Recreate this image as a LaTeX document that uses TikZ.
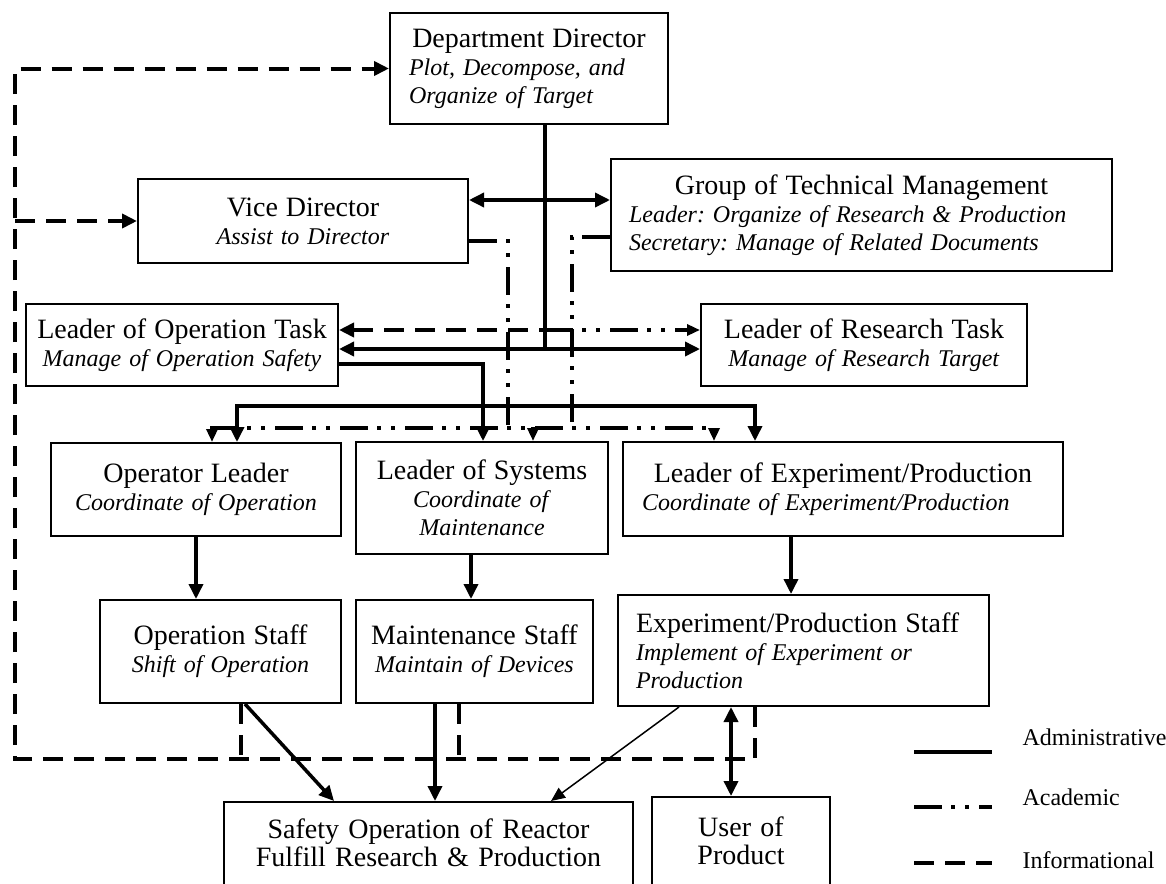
\documentclass[tikz,border=0pt]{standalone}
\usepackage{fontspec}
\setmainfont{Liberation Serif}
\usetikzlibrary{arrows.meta}
\frenchspacing

\newcommand{\boxtitle}[1]{{\fontsize{28}{28}\selectfont #1}}
\newcommand{\boxhead}[1]{\makebox[\hsize]{\fontsize{28}{28}\selectfont #1}}

\begin{document}
\begin{tikzpicture}[x=1pt, y=-1pt,
    every node/.style={font=\fontsize{24}{28}\selectfont},
    unit/.style={draw, line width=2pt, inner sep=0pt, align=center},
    unitl/.style={unit, align=left},
    plain/.style={font=\fontsize{28}{28}\selectfont},
    >={Triangle[length=15pt,width=14pt]},
    adm/.style={line width=3.5pt},
    thinadm/.style={line width=1.5pt, >={Triangle[length=14pt,width=12pt]}},
    acad/.style={line width=3.5pt, dash pattern=on 28pt off 9pt on 4pt off 10pt on 4pt off 10pt, >={Triangle[length=13pt,width=11pt]}},
    info/.style={line width=4pt, dash pattern=on 20pt off 11pt}]
    \useasboundingbox (0,0) rectangle (1166,883);
    \fill[white] (0,0) rectangle (1166,883);
    \clip (0,0) rectangle (1166,883);

    % Direction
    \node[unitl, minimum width=278pt, minimum height=111pt, text width=240pt] (dir) at (529,68.5) {\boxhead{Department Director}\\\textit{Plot, Decompose, and}\\\textit{Organize of Target}};
    \node[unit, minimum width=330pt, minimum height=84pt, text width=300pt] (vice) at (303,221) {\boxtitle{Vice Director}\\\textit{Assist to Director}};
    \node[unitl, minimum width=501pt, minimum height=112pt, text width=465pt] (group) at (861.5,215) {\boxhead{Group of Technical Management}\\\textit{Leader: Organize of Research \& Production}\\\textit{Secretary: Manage of Related Documents}};

    % Task leaders
    \node[unit, minimum width=312pt, minimum height=82pt, text width=300pt] (optask) at (182,345) {\boxtitle{Leader of Operation Task}\\\textit{Manage of Operation Safety}};
    \node[unit, minimum width=326pt, minimum height=82pt, text width=300pt] (research) at (864,345) {\boxtitle{Leader of Research Task}\\\textit{Manage of Research Target}};

    % Coordinators
    \node[unit, minimum width=290pt, minimum height=93pt, text width=270pt] (oplead) at (196,489.5) {\boxtitle{Operator Leader}\\\textit{Coordinate of Operation}};
    \node[unit, minimum width=252pt, minimum height=112pt, text width=232pt] (systems) at (482,498) {\boxtitle{Leader of Systems}\\\textit{Coordinate of}\\\textit{Maintenance}};
    \node[unitl, minimum width=440pt, minimum height=94pt, text width=402pt] (exlead) at (843,489) {\boxhead{Leader of Experiment/Production}\\\textit{Coordinate of Experiment/Production}};

    % Staff
    \node[unit, minimum width=241pt, minimum height=103pt, text width=221pt] (opstaff) at (220.5,651.5) {\boxtitle{Operation Staff}\\\textit{Shift of Operation}};
    \node[unit, minimum width=237pt, minimum height=103pt, text width=217pt] (mstaff) at (474.5,651.5) {\boxtitle{Maintenance Staff}\\\textit{Maintain of Devices}};
    \node[unitl, minimum width=371pt, minimum height=111pt, text width=335pt] (exstaff) at (803.5,650.5) {\boxtitle{Experiment/Production Staff}\\\textit{Implement of Experiment or}\\\textit{Production}};

    % Results (cut by the lower edge)
    \node[unit, plain, minimum width=409pt, minimum height=102pt, text width=389pt] (safety) at (428.5,853) {Safety Operation of Reactor\\Fulfill Research \& Production\\[-8pt]\mbox{}};
    \node[unit, plain, minimum width=178pt, minimum height=107pt, text width=160pt] (user) at (741,850.5) {User of\\Product\\[-8pt]\mbox{}};

    % Administrative lines
    \draw[adm] ([xshift=16pt]dir.south) -- ++(0,225);
    \draw[adm,<->] ([yshift=21pt]vice.east) -- ([yshift=21pt]vice.east -| group.west);
    \draw[adm,<->] ([yshift=-4pt]optask.east) -- ([yshift=-4pt]research.west);
    \draw[adm,->] ([yshift=-19pt]optask.east) -| ([xshift=1pt]systems.north);
    \coordinate (admbar) at (500,406);
    \draw[adm,<->] ([xshift=41pt]oplead.north) |- (admbar) -| ([xshift=-88pt]exlead.north);
    \draw[adm,->] (oplead.south) -- (oplead.south |- opstaff.north);
    \draw[adm,->] ([xshift=-11pt]systems.south) -- ([xshift=-11pt]systems.south |- mstaff.north);
    \draw[adm,->] ([xshift=-52pt]exlead.south) -- ([xshift=-52pt]exlead.south |- exstaff.north);
    \draw[adm,->] ([xshift=24.5pt]opstaff.south) -- ([xshift=-94.5pt]safety.north);
    \draw[adm,->] ([xshift=-39.5pt]mstaff.south) -- ([xshift=6.5pt]safety.north);
    \draw[thinadm,->] ([xshift=-124.5pt]exstaff.south) -- ([xshift=122.5pt]safety.north);
    \draw[adm,<->] ([xshift=-72.5pt]exstaff.south) -- ([xshift=-72.5pt]exstaff.south |- user.north);

    % Academic lines
    \coordinate (acadbar) at (500,428);
    \draw[acad] ([yshift=-20pt]vice.east) -| (508,428);
    \draw[acad] ([yshift=-22pt]group.west) -| (572,428);
    \draw[acad,<->] ([xshift=16pt]oplead.north) |- (acadbar) -| ([xshift=-129pt]exlead.north);
    \draw[acad,->] ([xshift=51pt]systems.north) ++(0,-14) -- ([xshift=51pt]systems.north);

    % Informational lines
    \coordinate (infocorner) at (15,759);
    \coordinate (infomid) at (545,330);
    \draw[info,->] ([xshift=-48.5pt]exstaff.south) |- (infocorner) |- (dir.west);
    \draw[info,->] (vice.west -| infocorner) -- (vice.west);
    \draw[info] ([xshift=20.5pt]opstaff.south) -- ++(0,56);
    \draw[info] ([xshift=-15.5pt]mstaff.south) -- ++(0,56);
    \draw[info,<-] ([yshift=15pt]optask.east) -- (infomid);
    \draw[acad,->] (infomid) -- ([yshift=15pt]research.west);

    % Legend
    \node[anchor=west] (legadm) at (1019,737) {Administrative};
    \node[anchor=west] (legacad) at (1019,797) {Academic};
    \node[anchor=west] (leginfo) at (1019,860) {Informational};
    \draw[adm] (914,752) -- (992,752);
    \draw[acad] (914,807) -- (992,807);
    \draw[info] (914,863) -- (992,863);
\end{tikzpicture}
\end{document}
